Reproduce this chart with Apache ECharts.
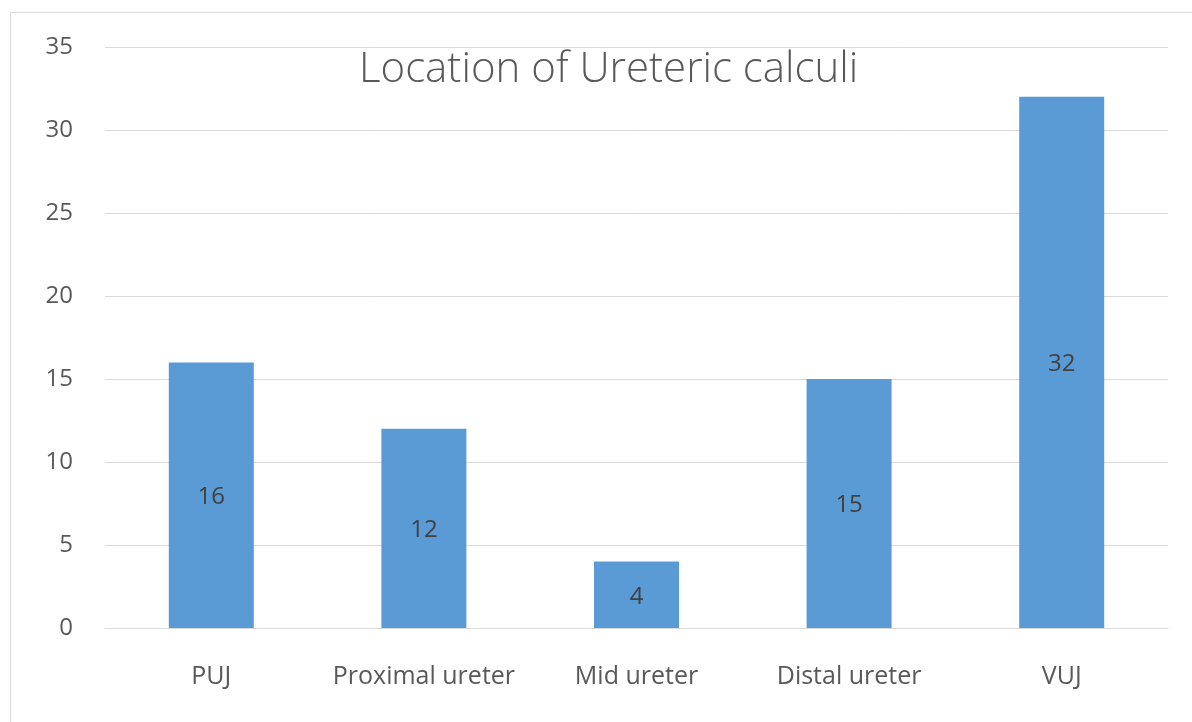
<!DOCTYPE html>
<html>
<head>
<meta charset="utf-8">
<style>
    html, body { margin: 0; padding: 0; background: #fff; }
    #chart { width: 1192px; height: 722px; }
</style>
</head>
<body>
<div id="chart"></div>
<script src="https://cdn.jsdelivr.net/npm/echarts@6/dist/echarts.min.js"></script>
<script>
    // 数据
    var categories = ['PUJ', 'Proximal ureter', 'Mid ureter', 'Distal ureter', 'VUJ'];
    var counts = [16, 12, 4, 15, 32];

    var myChart = echarts.init(document.getElementById('chart'));
    myChart.setOption({
        animation: false,
        title: {
            text: 'Location of Ureteric calculi',
            left: 354,
            top: 44,
            textStyle: {
                fontFamily: 'Open Sans',
                fontWeight: 300,
                fontSize: 42,
                color: '#595959'
            }
        },
        graphic: [{
            type: 'rect',
            shape: { x: 10.5, y: 12.5, width: 1200, height: 730 },
            style: { fill: 'none', stroke: '#d9d9d9', lineWidth: 1 },
            z: -1
        }],
        grid: { left: 105, right: 24, top: 47, bottom: 94 },
        xAxis: {
            type: 'category',
            data: categories,
            axisLine: { lineStyle: { color: '#d9d9d9', width: 1 } },
            axisTick: { show: false },
            axisLabel: {
                interval: 0,
                margin: 36,
                fontFamily: 'Open Sans',
                fontSize: 25,
                color: '#595959'
            }
        },
        yAxis: {
            type: 'value',
            min: 0,
            max: 35,
            interval: 5,
            axisLine: { show: false },
            axisTick: { show: false },
            axisLabel: {
                margin: 32,
                fontFamily: 'Open Sans',
                fontSize: 24,
                color: '#595959'
            },
            splitLine: { lineStyle: { color: '#d9d9d9', width: 1 } }
        },
        series: [{
            type: 'bar',
            data: counts,
            barWidth: 85,
            itemStyle: { color: '#5b9bd5' },
            label: {
                show: true,
                position: 'inside',
                offset: [0, 2],
                fontFamily: 'Open Sans',
                fontSize: 24,
                color: '#404040'
            }
        }]
    });
</script>
</body>
</html>
